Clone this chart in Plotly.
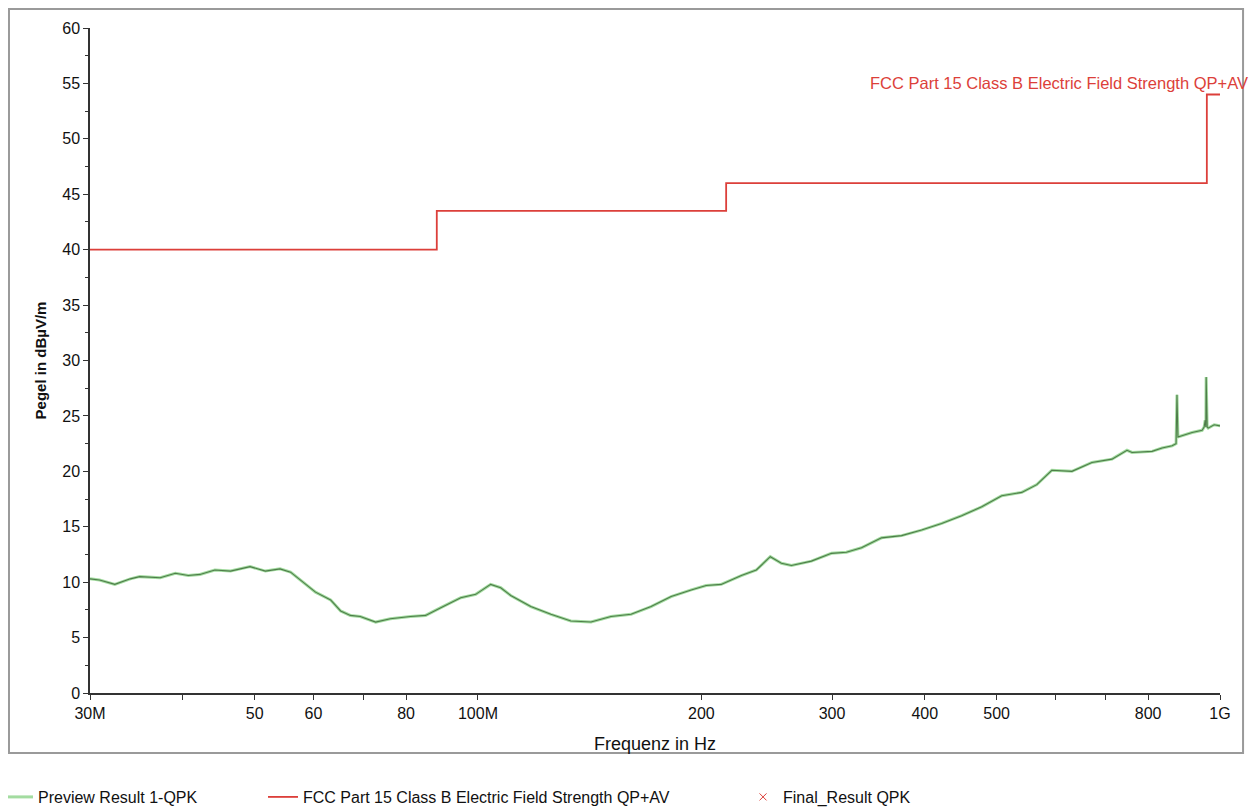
import numpy as np
import plotly.graph_objects as go

# preview scan, frequency in MHz, level in dBuV/m
freq_mhz = [30.0, 30.9, 32.4, 34.0, 35.0, 37.3, 39.1, 40.7, 42.2, 44.2, 46.4, 49.3,
            51.7, 54.1, 55.9, 58.5, 60.4, 63.3, 65.3, 67.3, 69.4, 72.8, 76.2, 81.1,
            85.0, 89.1, 94.8, 99.3, 104.0, 107.3, 110.7, 117.8, 125.4, 133.4, 142.0,
            151.1, 160.8, 171.1, 182.1, 193.8, 203.0, 212.7, 226.4, 237.2, 247.7,
            256.4, 264.5, 281.4, 299.5, 313.7, 328.7, 349.8, 372.3, 396.1, 421.6,
            448.6, 477.4, 508.0, 540.6, 566.4, 593.5, 631.6, 672.1, 715.2, 749.3,
            761.1, 809.9, 835.5, 861.9, 872.6, 875.0, 877.6, 917.0, 946.0, 952.0,
            955.0, 957.0, 958.0, 961.0, 964.0, 982.0, 1000.0]
level_db = [10.3, 10.2, 9.8, 10.3, 10.5, 10.4, 10.8, 10.6, 10.7, 11.1, 11.0, 11.4,
            11.0, 11.2, 10.9, 9.8, 9.1, 8.4, 7.4, 7.0, 6.9, 6.4, 6.7, 6.9,
            7.0, 7.7, 8.6, 8.9, 9.8, 9.5, 8.8, 7.8, 7.1, 6.5, 6.4,
            6.9, 7.1, 7.8, 8.7, 9.3, 9.7, 9.8, 10.6, 11.1, 12.3,
            11.7, 11.5, 11.9, 12.6, 12.7, 13.1, 14.0, 14.2, 14.7, 15.3,
            16.0, 16.8, 17.8, 18.1, 18.8, 20.1, 20.0, 20.8, 21.1, 21.9,
            21.7, 21.8, 22.1, 22.3, 22.5, 26.9, 23.1, 23.5, 23.7, 24.0,
            24.6, 24.0, 28.5, 24.0, 23.9, 24.2, 24.1]

# FCC Part 15 class B limit (step line)
limit_mhz = [30, 88, 216, 960, 1000]
limit_db = [40, 43.5, 46, 54, 54]

x_tickvals = [30, 40, 50, 60, 70, 80, 100, 200, 300, 400, 500, 600, 700, 800, 1000]
x_ticktext = ['30M', '', '50', '60', '', '80', '100M', '200', '300', '400', '500',
              '', '', '800', '1G']

red = '#dc3f3a'
font = 'Liberation Sans, Arial, sans-serif'

f_hz = np.array(freq_mhz) * 1e6
lim_hz = np.array(limit_mhz) * 1e6

fig = go.Figure()

fig.add_trace(go.Scatter(x=f_hz, y=level_db, mode='lines', name='Preview Result 1-QPK',
                         line=dict(color='#a3dca0', width=3), legend='legend'))
fig.add_trace(go.Scatter(x=f_hz, y=level_db, mode='lines', showlegend=False,
                         line=dict(color='#4f7d4a', width=1.1)))
fig.add_trace(go.Scatter(x=lim_hz, y=limit_db, mode='lines', line_shape='hv',
                         name='FCC Part 15 Class B Electric Field Strength QP+AV',
                         line=dict(color=red, width=1.8), legend='legend2'))
fig.add_trace(go.Scatter(x=[None], y=[None], mode='markers', name='Final_Result QPK',
                         marker=dict(symbol='x-thin', size=7, color=red,
                                     line=dict(color=red, width=1)), legend='legend3'))

# limit label top right
fig.add_annotation(x=1.0265, y=0.917, xref='paper', yref='paper', xanchor='right',
                   yanchor='middle', showarrow=False,
                   text='FCC Part 15 Class B Electric Field Strength QP+AV',
                   font=dict(family=font, size=16.5, color=red))

# outer frame
fig.add_shape(type='rect', xref='paper', yref='paper', x0=-0.0717, x1=1.0204,
              y0=-0.0902, y1=1.0286, line=dict(color='#9a9a9a', width=2))

leg = dict(orientation='h', y=-0.1564, yanchor='middle', xanchor='left',
           font=dict(family=font, size=16, color='#111'), bgcolor='rgba(0,0,0,0)')

# page body adds 8px, so figure is 8px smaller and margins shifted
fig.update_layout(
    width=1252, height=799,
    margin=dict(l=82, r=40, t=20, b=114, autoexpand=False),
    plot_bgcolor='white', paper_bgcolor='white',
    font=dict(family=font, size=15, color='#111'),
    legend=dict(leg, x=-0.0814),
    legend2=dict(leg, x=0.1531),
    legend3=dict(leg, x=0.5779),
)

fig.update_xaxes(type='log', range=[np.log10(30e6), 9], tickvals=np.array(x_tickvals) * 1e6,
                 ticktext=x_ticktext, showgrid=False, zeroline=False, showline=True,
                 linecolor='#333', linewidth=1.5, ticks='outside', ticklen=5,
                 tickcolor='#333', tickfont=dict(size=16), automargin=False,
                 title=dict(text='Frequenz in Hz', font=dict(size=18), standoff=16))
fig.update_yaxes(range=[0, 60], dtick=5, showgrid=False, zeroline=False, showline=True,
                 linecolor='#333', linewidth=1.5, ticks='outside', ticklen=5,
                 tickcolor='#333', tickfont=dict(size=16), automargin=False,
                 minor=dict(dtick=2.5, ticks='outside', ticklen=3, tickcolor='#333',
                            showgrid=False),
                 title=dict(text='<b>Pegel in dBµV/m</b>', font=dict(size=15), standoff=12))

fig.write_html("out.html")
